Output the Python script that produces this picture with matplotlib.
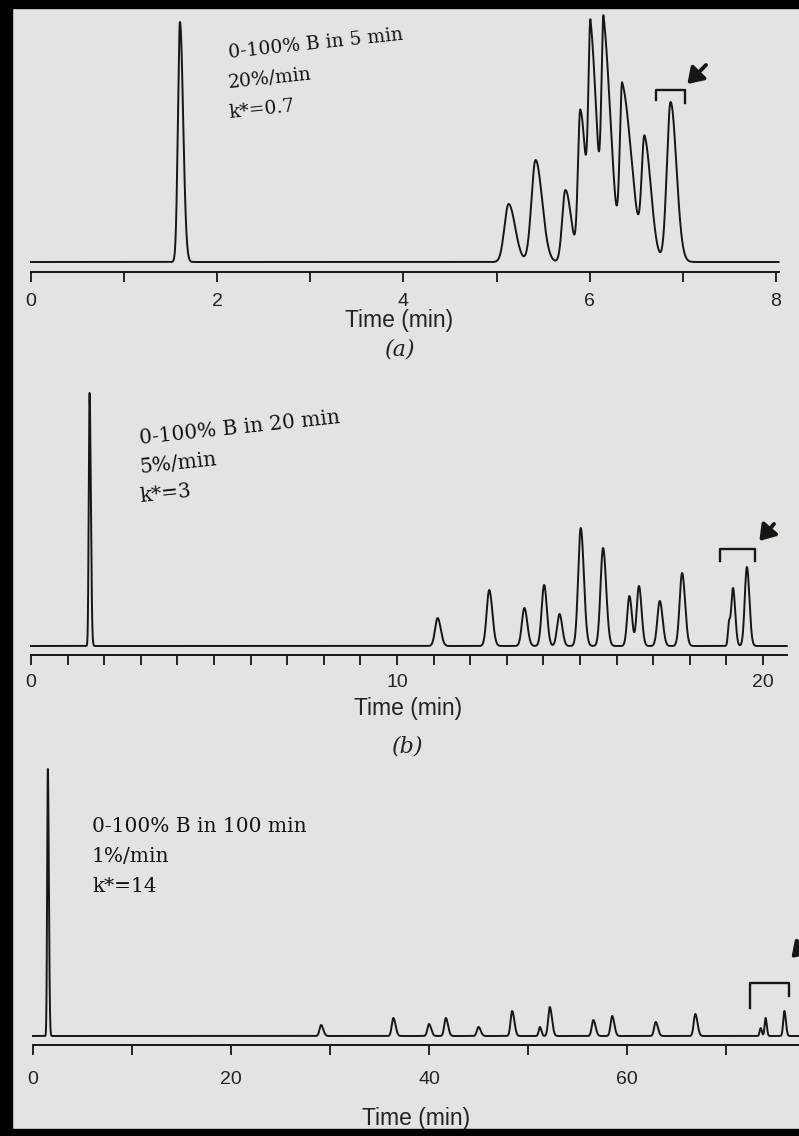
import numpy as np
import matplotlib
matplotlib.use("Agg")
import matplotlib.pyplot as plt
from matplotlib.patches import Rectangle

plt.rcParams["font.family"] = ["Liberation Sans", "DejaVu Sans"]

# ---------------- data ----------------
# (a) 0-100% B in 5 min
rt_a = [1.60, 5.13, 5.42, 5.74, 5.90, 6.01, 6.15, 6.35, 6.59, 6.87]
h_a = [240, 58, 102, 72, 150, 214, 217, 170, 117, 160]
sf_a = [0.022, 0.045, 0.045, 0.034, 0.025, 0.022, 0.022, 0.025, 0.030, 0.040]
st_a = [0.034, 0.070, 0.070, 0.062, 0.060, 0.070, 0.080, 0.100, 0.070, 0.062]
ticks_a = [0, 2, 4, 6, 8]
minor_a = [1, 3, 5, 7]
text_a = ["0-100% B in 5 min", "20%/min", "k*=0.7"]

# (b) 0-100% B in 20 min
rt_b = [1.60, 11.11, 12.52, 13.48, 14.02, 14.44, 15.02, 15.63, 16.35, 16.61,
        17.18, 17.79, 19.07, 19.18, 19.56]
h_b = [253, 28, 56, 38, 61, 32, 118, 98, 50, 60, 45, 73, 20, 58, 79]
sf_b = [0.022, 0.070, 0.070, 0.068, 0.068, 0.066, 0.070, 0.070, 0.060, 0.060,
        0.066, 0.068, 0.030, 0.050, 0.058]
st_b = [0.034, 0.085, 0.085, 0.080, 0.075, 0.075, 0.085, 0.085, 0.068, 0.072,
        0.078, 0.080, 0.030, 0.060, 0.068]
ticks_b = [0, 10, 20]
minor_b = [1, 2, 3, 4, 5, 6, 7, 8, 9, 11, 12, 13, 14, 15, 16, 17, 18, 19]
text_b = ["0-100% B in 20 min", "5%/min", "k*=3"]

# (c) 0-100% B in 100 min
rt_c = [1.5, 29.1, 36.4, 40.0, 41.7, 45.0, 48.4, 51.2, 52.2, 56.6, 58.5,
        62.9, 66.9, 73.5, 74.0, 75.9]
h_c = [267, 11, 18, 12, 18, 9, 25, 9, 29, 16, 20, 14, 22, 8, 18, 25]
sf_c = [0.07, 0.16, 0.16, 0.16, 0.16, 0.16, 0.16, 0.12, 0.16, 0.16, 0.16,
        0.16, 0.16, 0.10, 0.10, 0.12]
st_c = [0.10, 0.22, 0.22, 0.22, 0.22, 0.22, 0.22, 0.15, 0.22, 0.22, 0.22,
        0.22, 0.22, 0.12, 0.12, 0.15]
ticks_c = [0, 20, 40, 60]
minor_c = [10, 30, 50, 70]
text_c = ["0-100% B in 100 min", "1%/min", "k*=14"]

W, H = 799, 1136
BG = "#e3e3e0"
INK = "#161616"


def signal(t, rts, hs, sfs, sts):
    y = np.zeros_like(t)
    for tr, h, sf, st in zip(rts, hs, sfs, sts):
        s = np.where(t < tr, sf, st)
        y += h * np.exp(-0.5 * ((t - tr) / s) ** 2)
    return y


fig = plt.figure(figsize=(W / 100, H / 100), dpi=100, facecolor=BG)


def make_axes(x0, ppm, tmax, y_axis, y_top, base_off, pad):
    left = x0 / W
    width = tmax * ppm / W
    bottom = (H - y_axis) / H
    height = (y_axis - y_top) / H
    ax = fig.add_axes([left, bottom, width, height])
    ax.set_facecolor("none")
    ax.set_xlim(0, tmax)
    ax.set_ylim(-base_off, (y_axis - y_top) - base_off)
    for s in ["left", "right", "top"]:
        ax.spines[s].set_visible(False)
    ax.spines["bottom"].set_linewidth(1.4)
    ax.spines["bottom"].set_color(INK)
    ax.set_yticks([])
    ax.tick_params(axis="x", which="both", direction="out", length=7,
                   width=1.3, color=INK, pad=pad, labelsize=14,
                   labelcolor="#222222")
    return ax


def draw_panel(ax, tmax, rts, hs, sfs, sts, ticks, minors, lw):
    t = np.linspace(0, tmax, 40000)
    ax.plot(t, signal(t, rts, hs, sfs, sts), color=INK, lw=lw,
            solid_joinstyle="round", clip_on=False)
    ax.set_xticks(ticks)
    ax.set_xticks(minors, minor=True)


def bracket(ax, x1, x2, ytop, yl, yr):
    ax.plot([x1, x1, x2, x2], [yl, ytop, ytop, yr], color=INK, lw=1.7,
            clip_on=False)


def arrow(ax, head, tail):
    ax.annotate("", xy=head, xytext=tail, annotation_clip=False,
                arrowprops=dict(arrowstyle="-|>,head_length=0.6,head_width=0.4",
                                lw=2.8, color=INK, mutation_scale=15,
                                shrinkA=0, shrinkB=0))


def ftext(x, y, s, **kw):
    fig.text(x / W, 1 - y / H, s, **kw)


# ---- panel (a)
axa = make_axes(31, 93.1, 8.03, 272, 8, 10, 8)
draw_panel(axa, 8.03, rt_a, h_a, sf_a, st_a, ticks_a, minor_a, 1.4)
bracket(axa, 6.71, 7.02, 172, 162, 159)
arrow(axa, (7.05, 178), (7.25, 197))
for i, s in enumerate(text_a):
    ftext(229, 58 + 30 * i, s, family="DejaVu Serif", fontsize=13.5,
          rotation=6, rotation_mode="anchor", ha="left", va="baseline",
          color="#111111")
ftext(399, 321, "Time (min)", fontsize=16.5, ha="center", va="center",
      color="#222222")
ftext(400, 349, "(a)", family="DejaVu Serif", style="italic", fontsize=16,
      ha="center", va="center", color="#222222")

# ---- panel (b)
axb = make_axes(31, 36.6, 20.65, 655, 388, 9, 7)
draw_panel(axb, 20.65, rt_b, h_b, sf_b, st_b, ticks_b, minor_b, 1.4)
bracket(axb, 18.82, 19.78, 97, 85, 85)
arrow(axb, (19.9, 105), (20.3, 122))
for i, s in enumerate(text_b):
    ftext(140, 444 + 29 * i, s, family="DejaVu Serif", fontsize=14.5,
          rotation=6, rotation_mode="anchor", ha="left", va="baseline",
          color="#111111")
ftext(408, 708, "Time (min)", fontsize=16.5, ha="center", va="center",
      color="#222222")
ftext(408, 746, "(b)", family="DejaVu Serif", style="italic", fontsize=16,
      ha="center", va="center", color="#222222")

# ---- panel (c)
axc = make_axes(33, 9.9, 77.4, 1045, 765, 9, 12)
draw_panel(axc, 77.4, rt_c, h_c, sf_c, st_c, ticks_c, minor_c, 1.4)
bracket(axc, 72.4, 76.4, 53, 28, 40)
arrow(axc, (76.6, 78), (78.8, 100))
for i, s in enumerate(text_c):
    ftext(92, 832 + 30 * i, s, family="DejaVu Serif", fontsize=14.5,
          ha="left", va="baseline", color="#111111")
ftext(416, 1118, "Time (min)", fontsize=16.5, ha="center", va="center",
      color="#222222")

# ---- black photo frame
for (x, y, w, h) in [(0, 0, W, 8), (0, 0, 12, H), (0, H - 7, W, 7)]:
    fig.patches.append(Rectangle((x / W, 1 - (y + h) / H), w / W, h / H,
                                 transform=fig.transFigure, color="black",
                                 zorder=100))

fig.savefig("out.png", dpi=100, facecolor=BG)
